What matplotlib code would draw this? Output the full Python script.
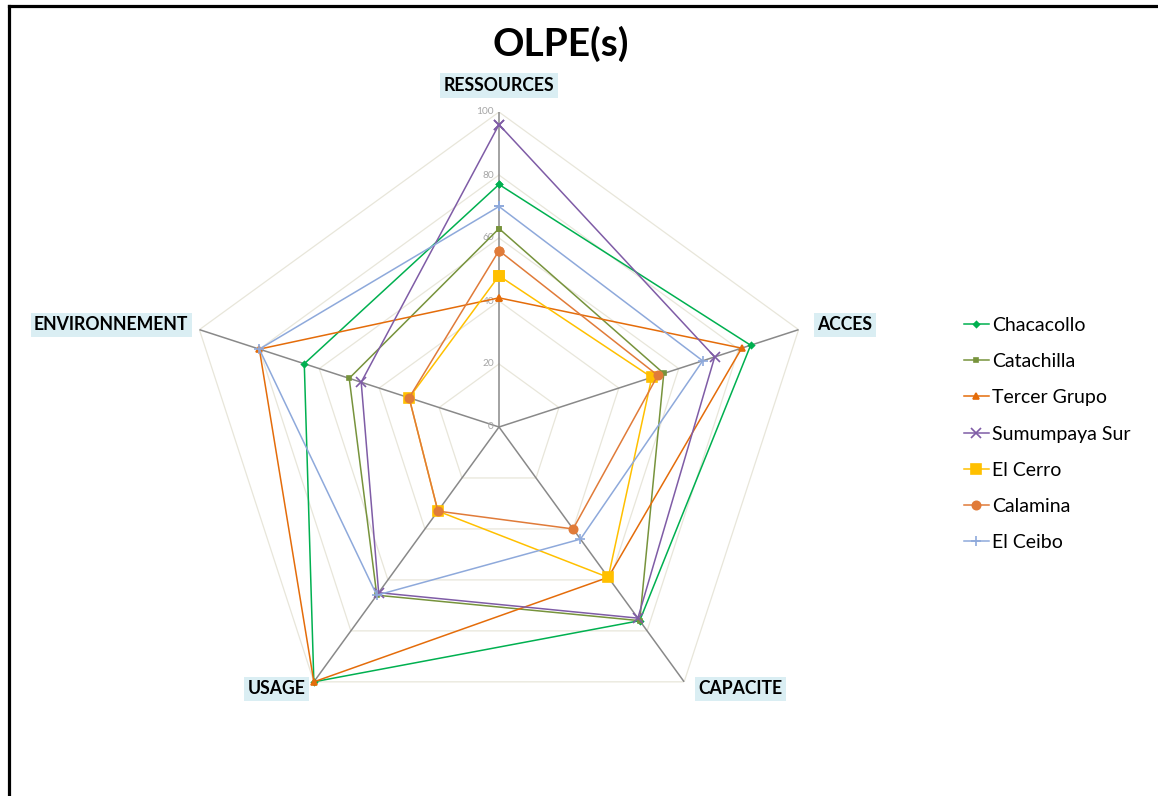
import matplotlib
matplotlib.use("Agg")
import matplotlib.pyplot as plt
import numpy as np

# radar chart of the OLPE(s) scores, 5 criteria
axes_names = ["RESSOURCES", "ACCES", "CAPACITE", "USAGE", "ENVIRONNEMENT"]
groups = ["Chacacollo", "Catachilla", "Tercer Grupo", "Sumumpaya Sur",
          "El Cerro", "Calamina", "El Ceibo"]

chacacollo = [77, 84, 76, 100, 65]
catachilla = [63, 55, 76, 66, 50]
tercer_grupo = [41, 81, 59, 100, 80]
sumumpaya_sur = [96, 72, 75, 65, 46]
el_cerro = [48, 51, 59, 33, 30]
calamina = [56, 53, 40, 33, 30]
el_ceibo = [70, 68, 44, 66, 80]

tick_values = [0, 20, 40, 60, 80, 100]

series = [chacacollo, catachilla, tercer_grupo, sumumpaya_sur,
          el_cerro, calamina, el_ceibo]
colours = ["#00B050", "#77933C", "#E46C0A", "#7F5CA6",
           "#FFC000", "#E07B39", "#8EA9DB"]
markers = ["D", "s", "^", "x", "s", "o", "+"]
msizes = [3, 3, 4, 7, 7, 6, 7]

FONT = "Lato"
plt.rcParams["font.family"] = [FONT, "DejaVu Sans"]

W, H = 1158, 796
fig = plt.figure(figsize=(W / 100, H / 100), dpi=100)

# centre of the web at (499, 427) px, radius 315 px
cx, cy, rad = 499, 427, 315
ax = fig.add_axes([(cx - rad) / W, (H - cy - rad) / H, 2 * rad / W, 2 * rad / H],
                  projection="polar")
ax.set_theta_offset(np.pi / 2)
ax.set_theta_direction(-1)
ax.set_ylim(0, 100)
ax.grid(False)
ax.spines["polar"].set_visible(False)
ax.set_xticks([])
ax.set_yticks([])
ax.patch.set_alpha(0)

n = len(axes_names)
angles = np.arange(n) * 2 * np.pi / n
closed = np.append(angles, angles[0])

# pentagon grid
for r in tick_values[1:]:
    ax.plot(closed, [r] * (n + 1), color="#E8E6DA", lw=0.9, zorder=1)
# spokes
for a in angles:
    ax.plot([a, a], [0, 100], color="#898989", lw=1.1, zorder=2)

for v in tick_values:
    ax.annotate(str(v), xy=(0, v), xytext=(-5, 0), textcoords="offset pixels",
                ha="right", va="center", fontsize=7.3, color="#A6A6A6")

# criterion labels with light blue boxes
label_pos = [((0, 18), "center", "bottom"),
             ((19, 5), "left", "center"),
             ((14, -7), "left", "center"),
             ((-8, -7), "right", "center"),
             ((-11, 5), "right", "center")]
for a, name, (off, ha, va) in zip(angles, axes_names, label_pos):
    ax.annotate(name, xy=(a, 100), xytext=off, textcoords="offset pixels",
                ha=ha, va=va, fontsize=12.7, fontweight="bold", color="black",
                bbox=dict(boxstyle="square,pad=0.2", fc="#DAEEF3", ec="none"),
                annotation_clip=False)

handles = []
for vals, name, c, m, ms in zip(series, groups, colours, markers, msizes):
    v = np.append(vals, vals[0])
    ln, = ax.plot(closed, v, color=c, lw=1.1, marker=m, markersize=ms,
                  markeredgewidth=1.2, label=name, zorder=3, clip_on=False)
    handles.append(ln)

fig.legend(handles=handles, loc="upper left", bbox_to_anchor=(956 / W, 1 - 309 / H),
           frameon=False, fontsize=14, handlelength=1.3, handletextpad=0.15,
           labelspacing=0.99, borderaxespad=0)

fig.text(561 / W, 1 - 44 / H, "OLPE(s)", ha="center", va="center",
         fontsize=28, fontweight="bold")

# black frame on top and left
fig.add_artist(plt.Line2D([8.5 / W, 1], [1 - 5.5 / H, 1 - 5.5 / H],
                          transform=fig.transFigure, color="black", lw=2.3))
fig.add_artist(plt.Line2D([8.5 / W, 8.5 / W], [0, 1 - 5.5 / H],
                          transform=fig.transFigure, color="black", lw=2.3))

fig.savefig("out.png", dpi=100)
